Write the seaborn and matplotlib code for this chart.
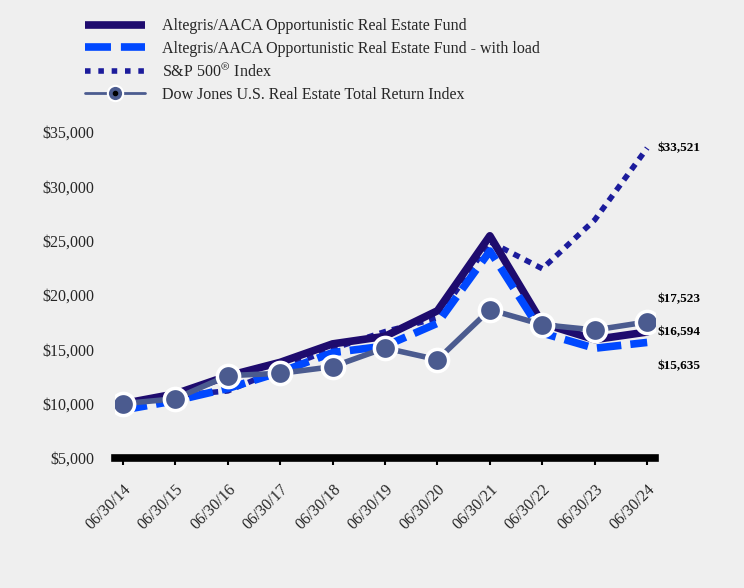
import matplotlib
matplotlib.use("Agg")
import matplotlib.pyplot as plt
import matplotlib.ticker as ticker
from matplotlib.lines import Line2D
import seaborn as sns
import pandas as pd

dates = ["06/30/14", "06/30/15", "06/30/16", "06/30/17", "06/30/18", "06/30/19",
         "06/30/20", "06/30/21", "06/30/22", "06/30/23", "06/30/24"]
fund = [10000, 10900, 12550, 13800, 15500, 16200, 18550, 25450, 17400, 15900, 16594]
fund_load = [9425, 10270, 11400, 12900, 14700, 15300, 17400, 24050, 16500, 15100, 15635]
sp500 = [10000, 10742, 11171, 13170, 15063, 16631, 17880, 24900, 22420, 26912, 33521]
dj_re = [10000, 10450, 12580, 12790, 13400, 15120, 14050, 18650, 17270, 16780, 17523]

names = ["Altegris/AACA Opportunistic Real Estate Fund",
         "Altegris/AACA Opportunistic Real Estate Fund - with load",
         "S&P 500$^{\u00ae}$ Index",
         "Dow Jones U.S. Real Estate Total Return Index"]
end_labels = ["$33,521", "$17,523", "$16,594", "$15,635"]
end_label_pos = [33500, 19600, 16600, 13450]

c_fund = "#1e0b6e"
c_load = "#0048ff"
c_sp = "#1c1c9c"
c_dj = "#4b5b8f"

df = pd.DataFrame({"x": range(len(dates)), "fund": fund, "load": fund_load,
                   "sp": sp500, "dj": dj_re})

sns.set_theme(style="white")
plt.rcParams["font.family"] = ["Liberation Serif", "DejaVu Serif"]
plt.rcParams["mathtext.fontset"] = "stix"

fig = plt.figure(figsize=(7.44, 5.88), dpi=100, facecolor="#efefef")
ax = fig.add_axes([0.1546, 0.2211, 0.7258, 0.5544])
ax.set_facecolor("#efefef")

sns.lineplot(data=df, x="x", y="sp", ax=ax, color=c_sp, lw=4,
             linestyle=(0, (1.2, 1.1)), legend=False)
sns.lineplot(data=df, x="x", y="fund", ax=ax, color=c_fund, lw=5.5, legend=False)
sns.lineplot(data=df, x="x", y="load", ax=ax, color=c_load, lw=5.5,
             linestyle=(0, (3.2, 1.2)), legend=False)
sns.lineplot(data=df, x="x", y="dj", ax=ax, color=c_dj, lw=4, marker="o",
             markersize=16, markerfacecolor=c_dj, markeredgecolor="white",
             markeredgewidth=2.5, legend=False)

ax.set_xlim(-0.15, 10.15)
ax.set_ylim(5000, 35000)
ax.yaxis.set_major_locator(ticker.MultipleLocator(5000))
ax.yaxis.set_major_formatter(ticker.FuncFormatter(lambda v, p: "${:,.0f}".format(v)))
ax.set_xticks(range(len(dates)))
ax.set_xticklabels(dates, rotation=45, ha="right", rotation_mode="anchor")
ax.tick_params(axis="x", direction="out", length=5, width=1.5, color="black",
               labelsize=11.5, pad=12, bottom=True)
ax.tick_params(axis="y", length=0, labelsize=11.5, pad=15, left=False)
ax.set_xlabel("")
ax.set_ylabel("")
for s in ["top", "right", "left"]:
    ax.spines[s].set_visible(False)
ax.spines["bottom"].set_linewidth(5.5)
ax.spines["bottom"].set_color("black")

# end-of-period value labels
for txt, yv in zip(end_labels, end_label_pos):
    ax.text(10.2, yv, txt, fontsize=9.5, fontweight="bold",
            va="center", ha="left", color="black")

handles = [
    Line2D([], [], color=c_fund, lw=5.5, solid_capstyle="butt"),
    Line2D([], [], color=c_load, lw=5.5, linestyle=(0, (3.4, 1.3)),
           dash_capstyle="butt"),
    Line2D([], [], color=c_sp, lw=4, linestyle=(0, (1.0, 1.4)),
           dash_capstyle="butt"),
    (Line2D([], [], color=c_dj, lw=2, marker="o", markersize=11,
            markerfacecolor=c_dj, markeredgecolor="white", markeredgewidth=1.5),
     Line2D([], [], lw=0, marker="o", markersize=3, color="black")),
]
fig.legend(handles, names, loc="upper left", bbox_to_anchor=(0.0946, 0.993),
           frameon=False, fontsize=11.5, handlelength=3.75, handletextpad=1.1,
           labelspacing=0.4)

fig.savefig("out.png", dpi=100, facecolor=fig.get_facecolor())
